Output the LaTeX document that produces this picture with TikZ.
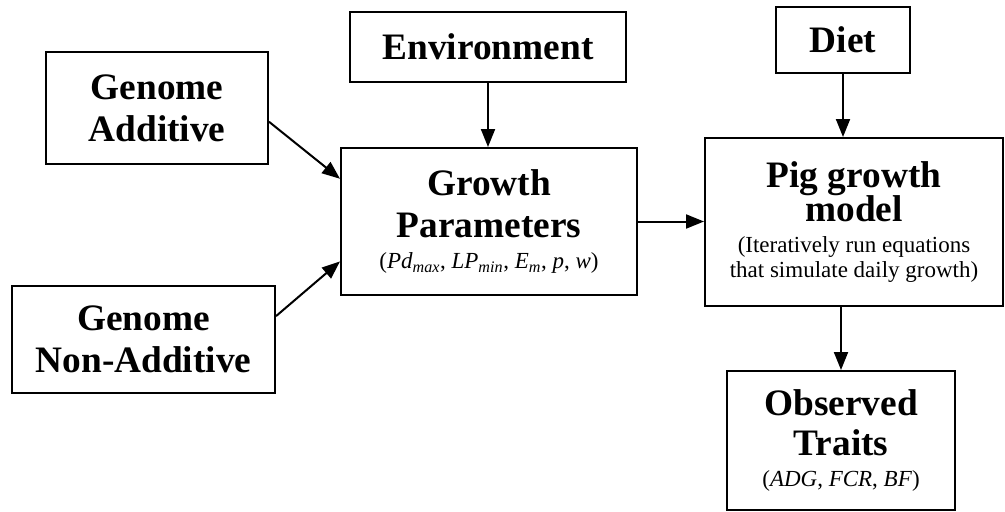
\documentclass[tikz,border=0pt]{standalone}
\usepackage{fontspec}
\setmainfont{Liberation Serif}
\usetikzlibrary{arrows.meta}
\newcommand\subtext[1]{{\fontsize{17.25}{20}\selectfont\mdseries #1}}
\begin{document}
\begin{tikzpicture}[x=0.75pt,y=-0.75pt,
  box/.style={draw, line width=1.5pt, inner sep=0pt, align=center,
    font=\fontsize{28}{31.5}\selectfont\bfseries},
  flow/.style={line width=1.5pt, -{Triangle[length=13.5pt,width=10.5pt]}},
]
\useasboundingbox (0,0) rectangle (1005,511);

% inputs
\node[box, minimum width=166.5pt, minimum height=84pt] (ga) at (157,108)
  {Genome\\Additive};
\node[box, minimum width=197.25pt, minimum height=80.25pt] (gna) at (143.5,339.5)
  {Genome\\Non-Additive};
\node[box, minimum width=207pt, minimum height=52.5pt] (env) at (488,47)
  {Environment};
\node[box, minimum width=100.5pt, minimum height=49.5pt] (diet) at (843,40)
  {Diet};

% model blocks
\node[box, minimum width=222pt, minimum height=110.25pt] (gp) at (489,221.5)
  {Growth\\Parameters\\[-8pt]\subtext{(\textit{Pd}\textsubscript{\textit{max}}, \textit{LP}\textsubscript{\textit{min}}, \textit{E}\textsubscript{\textit{m}}, \textit{p}, \textit{w})}};
\node[box, minimum width=223.5pt, minimum height=126pt] (pig) at (854,222)
  {Pig growth\\[-6pt]model\\[-8pt]\subtext{(Iteratively run equations}\\[-12.75pt]\subtext{that simulate daily growth)}};
\node[box, minimum width=171pt, minimum height=104.25pt] (obs) at (841,440.5)
  {Observed\\[-1.5pt]Traits\\[-8pt]\subtext{(\textit{ADG}, \textit{FCR}, \textit{BF})}};

% connectors
\draw[flow] (ga.-7) -- (gp.164);
\draw[flow] (gna.10) -- (gp.195);
\draw[flow] (env.south) -- (env.south |- gp.north);
\draw[flow] (diet.south) -- (diet.south |- pig.north);
\draw[flow] (gp.east) -- (pig.west |- gp.east);
\draw[flow] (obs.north |- pig.south) -- (obs.north);
\end{tikzpicture}
\end{document}
